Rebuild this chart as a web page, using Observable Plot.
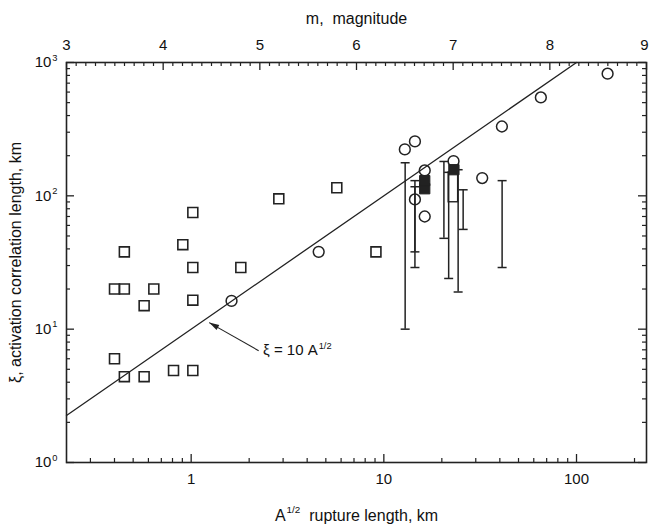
<!DOCTYPE html>
<html><head><meta charset="utf-8">
<script src="https://cdn.jsdelivr.net/npm/d3@7"></script>
<script src="https://cdn.jsdelivr.net/npm/@observablehq/plot@0.6"></script>
<style>
body{margin:0;background:#fff;}
#chart svg text{white-space:pre;}
</style>
</head><body><div id="chart"></div>
<script>
// ---- data ----
const openSquareX = [0.40, 0.45, 0.45, 0.40, 0.45, 0.57, 0.57, 0.64, 0.81, 1.02, 0.905, 1.02, 1.02, 1.02, 1.81, 2.85, 5.7, 9.1];
const openSquareY = [20, 20, 38, 6, 4.4, 4.4, 15, 20, 4.9, 4.9, 43, 75, 29, 16.5, 29, 95, 115, 38];
const circleX = [1.62, 4.59, 12.85, 14.5, 16.3, 14.5, 16.3, 23.0, 32.4, 41.0, 65.3, 145];
const circleY = [16.3, 38, 223, 256, 155, 94, 70, 182, 136, 331, 547, 824];
const filledX = [16.3, 16.3, 23.1];
const filledY = [113, 130, 157];
const barX    = [12.9, 14.5, 14.5, 20.5, 21.7, 24.3, 25.8, 41.1];
const barLow  = [10, 29, 38, 48, 24, 19, 56, 29];
const barHigh = [177, 130, 117, 181, 150, 157, 111, 130];
const boxX1 = [21.7], boxX2 = [24.3], boxLow = [89.5], boxHigh = [150];
const lineCoef = 10; // xi = 10 A^1/2
const annotTail = {x: 2.24, y: 6.9}, annotHead = {x: 1.24, y: 11.2}, annotText = {x: 2.36, y: 6.9};
const annotLabel = "\u03BE = 10 A^{1/2}";

// ---- ticks / labels ----
const xDomain = [0.2254, 230.8];
const yDomain = [1, 1000];
const xMajor = [1, 10, 100];
const xMinor = [0.3,0.4,0.5,0.6,0.7,0.8,0.9, 2,3,4,5,6,7,8,9, 20,30,40,50,60,70,80,90, 200];
const yMajor = [1, 10, 100, 1000];
const yMinor = [2,3,4,5,6,7,8,9, 20,30,40,50,60,70,80,90, 200,300,400,500,600,700,800,900];
const mMajor = [3, 4, 5, 6, 7, 8, 9];
const mMinor = d3.range(30, 91).map(d => d / 10).filter(d => !Number.isInteger(d));
const topTitle = "m,  magnitude";
const bottomTitle = "A^{1/2}  rupture length, km";
const leftTitle = "\u03BE, activation correlation length, km";

const L0 = Math.log10(xDomain[0]), L1 = Math.log10(xDomain[1]);
const mToX = m => 10 ** (L0 + (m - 3) / 6 * (L1 - L0));

const squares = openSquareX.map((x, i) => ({x, y: openSquareY[i]}));
const circles = circleX.map((x, i) => ({x, y: circleY[i]}));
const filled = filledX.map((x, i) => ({x, y: filledY[i]}));
const bars = barX.map((x, i) => ({x, lo: barLow[i], hi: barHigh[i]}));
const caps = bars.flatMap(b => [{x: b.x, y: b.lo}, {x: b.x, y: b.hi}]);
const boxes = boxX1.map((x1, i) => ({x1, x2: boxX2[i], y1: boxLow[i], y2: boxHigh[i]}));
const lineA = [xDomain[0], yDomain[1] / lineCoef];

const capSymbol = {draw(ctx, size) { const w = Math.sqrt(size / Math.PI); ctx.moveTo(-w, 0); ctx.lineTo(w, 0); }};
// narrow arrowhead with its tip at the origin, pointing up
const headSymbol = {draw(ctx, size) { const L = Math.sqrt(size / Math.PI) * 2, w = L * 0.28; ctx.moveTo(0, 0); ctx.lineTo(-w, L); ctx.lineTo(w, L); ctx.closePath(); }};
const ink = "#222";
const IW = 580, IH = 400;
const FS = 15, TFS = 16;
const mInner = mMajor.slice(0, -1), mLast = mMajor.slice(-1);

const plot = Plot.plot({
  width: 649, height: 528,
  marginLeft: 66, marginRight: 3, marginTop: 62, marginBottom: 66,
  x: {type: "log", domain: xDomain, axis: null},
  y: {type: "log", domain: yDomain, axis: null},
  style: {fontFamily: "'Liberation Sans', Arial, Helvetica, sans-serif", color: "#111", background: "white", overflow: "visible"},
  marks: [
    // ticks
    Plot.ruleX(xMajor, {x: d => d, insetTop: IH - 8, stroke: ink, strokeWidth: 1.3}),
    Plot.ruleX(xMinor, {x: d => d, insetTop: IH - 4, stroke: ink, strokeWidth: 1.2}),
    Plot.ruleX(mMajor, {x: mToX, insetBottom: IH - 8, stroke: ink, strokeWidth: 1.3}),
    Plot.ruleX(mMinor, {x: mToX, insetBottom: IH - 4, stroke: ink, strokeWidth: 1.2}),
    Plot.ruleY(yMajor, {y: d => d, insetRight: IW - 8, stroke: ink, strokeWidth: 1.3}),
    Plot.ruleY(yMinor, {y: d => d, insetRight: IW - 4, stroke: ink, strokeWidth: 1.2}),
    Plot.ruleY(yMajor, {y: d => d, insetLeft: IW - 8, stroke: ink, strokeWidth: 1.3}),
    Plot.ruleY(yMinor, {y: d => d, insetLeft: IW - 4, stroke: ink, strokeWidth: 1.2}),
    Plot.frame({stroke: ink, strokeWidth: 1.6}),
    // tick labels
    Plot.text(xMajor, {x: d => d, text: d => String(d), frameAnchor: "bottom", lineAnchor: "middle", dy: 17, fontSize: FS}),
    Plot.text(mInner, {x: mToX, text: d => String(d), frameAnchor: "top", lineAnchor: "middle", dy: -17, fontSize: FS}),
    Plot.text(mLast, {x: mToX, text: d => String(d), frameAnchor: "top", lineAnchor: "middle", textAnchor: "end", dx: 2, dy: -17, fontSize: FS}),
    Plot.text(yMajor, {y: d => d, text: d => `10^{${Math.round(Math.log10(d))}}`, frameAnchor: "left", lineAnchor: "middle", dx: -9, textAnchor: "end", fontSize: FS}),
    // titles
    Plot.text([topTitle], {text: d => d, frameAnchor: "top", lineAnchor: "middle", textAnchor: "middle", dy: -44, fontSize: TFS}),
    Plot.text([bottomTitle], {text: d => d, frameAnchor: "bottom", lineAnchor: "middle", textAnchor: "middle", dy: 53, fontSize: TFS}),
    Plot.text([leftTitle], {text: d => d, frameAnchor: "left", lineAnchor: "middle", textAnchor: "middle", dx: -51, rotate: -90, fontSize: TFS}),
    // model line
    Plot.line(lineA, {x: d => d, y: d => lineCoef * d, stroke: ink, strokeWidth: 1.3}),
    // error bars
    Plot.ruleX(bars, {x: "x", y1: "lo", y2: "hi", stroke: ink, strokeWidth: 1.5}),
    Plot.dot(caps, {x: "x", y: "y", symbol: capSymbol, r: 4.5, stroke: ink, strokeWidth: 1.5, fill: "none"}),
    Plot.rect(boxes, {x1: "x1", x2: "x2", y1: "y1", y2: "y2", stroke: ink, strokeWidth: 1.4, fill: "none"}),
    // points
    Plot.dot(squares, {x: "x", y: "y", symbol: "square", r: 5.6, stroke: ink, strokeWidth: 1.6, fill: "none"}),
    Plot.dot(circles, {x: "x", y: "y", r: 5.4, stroke: ink, strokeWidth: 1.5, fill: "none"}),
    Plot.dot(filled, {x: "x", y: "y", symbol: "square", r: 5.8, stroke: ink, strokeWidth: 1, fill: ink}),
    // annotation
    Plot.link([0], {x1: () => annotTail.x, y1: () => annotTail.y, x2: () => annotHead.x, y2: () => annotHead.y, stroke: ink, strokeWidth: 1.1}),
    Plot.dot([0], {x: () => annotHead.x, y: () => annotHead.y, symbol: headSymbol, r: 5, rotate: -61, fill: ink, stroke: "none"}),
    Plot.text([annotLabel], {x: () => annotText.x, y: () => annotText.y, text: d => d, textAnchor: "start", lineAnchor: "middle", fontSize: FS})
  ]
});
document.getElementById("chart").appendChild(plot);

// superscripts: turn "^{...}" into raised tspans
const NS = "http://www.w3.org/2000/svg";
plot.querySelectorAll("text").forEach(t => {
  const s = t.textContent;
  if (!s.includes("^{")) return;
  const fs = parseFloat(getComputedStyle(t).fontSize) || 14;
  while (t.firstChild) t.removeChild(t.firstChild);
  const re = /\^\{([^}]*)\}/g;
  let last = 0, m, raised = false;
  const add = (str, sup) => {
    if (!str) return;
    const ts = document.createElementNS(NS, "tspan");
    ts.textContent = str;
    if (sup) { ts.setAttribute("font-size", (fs * 0.62).toFixed(1)); ts.setAttribute("dy", (-fs * 0.45).toFixed(1)); ts.setAttribute("dx", "1"); raised = true; }
    else if (raised) { ts.setAttribute("dy", (fs * 0.45).toFixed(1)); raised = false; }
    t.appendChild(ts);
  };
  while ((m = re.exec(s))) { add(s.slice(last, m.index), false); add(m[1], true); last = re.lastIndex; }
  add(s.slice(last), false);
});
</script>
</body></html>
